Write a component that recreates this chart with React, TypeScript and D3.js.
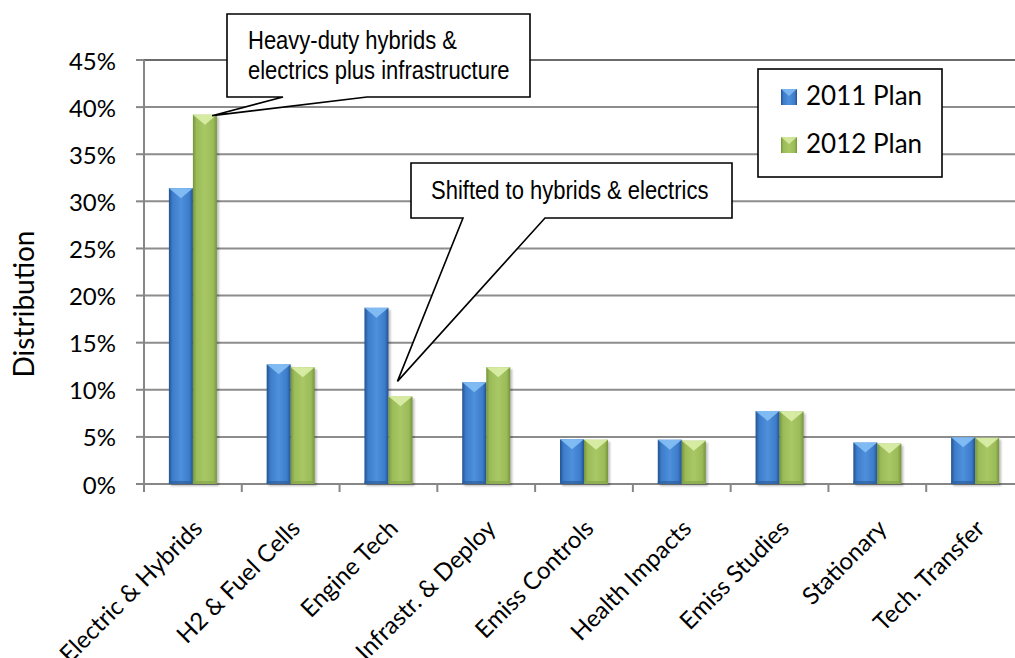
import React from "react";
import * as d3 from "d3";

const categories = [
  "Electric & Hybrids",
  "H2 & Fuel Cells",
  "Engine Tech",
  "Infrastr. & Deploy",
  "Emiss Controls",
  "Health Impacts",
  "Emiss Studies",
  "Stationary",
  "Tech. Transfer",
];
const plan2011 = [31.4, 12.7, 18.7, 10.8, 4.75, 4.7, 7.75, 4.4, 4.95];
const plan2012 = [39.2, 12.4, 9.3, 12.4, 4.7, 4.6, 7.7, 4.3, 4.9];
const seriesNames = ["2011 Plan", "2012 Plan"];
const yTicks = [0, 5, 10, 15, 20, 25, 30, 35, 40, 45];
const yTitle = "Distribution";
const callout1Lines = ["Heavy-duty hybrids &", "electrics plus infrastructure"];
const callout2Lines = ["Shifted to hybrids & electrics"];

const W = 1015;
const H = 658;
const left = 144;
const top = 60;
const bottom = 484;
const right = 1024;
const barW = 24;

const labelFont = "Lato, 'Open Sans', sans-serif";
const narrowFont = "'Liberation Sans', Arial, sans-serif";

const palettes = [
  { id: "blue", edge: "#23528f", mid: "#3c7cca", light: "#4f90dc", top: "#86c0f5", base: "#2c5f9e" },
  { id: "green", edge: "#76953c", mid: "#9bbb59", light: "#a8c866", top: "#dcefa8", base: "#86a64a" },
];

function Bar({ x, y, w, h, p }: { x: number; y: number; w: number; h: number; p: (typeof palettes)[0] }) {
  const tri = Math.min(10, h);
  return (
    <g>
      <rect x={x + 2} y={y + 2} width={w} height={h} fill="#000" opacity={0.25} filter="url(#blur)" />
      <rect x={x} y={y} width={w} height={h} fill={`url(#grad-${p.id})`} />
      <polygon points={`${x},${y} ${x + w},${y} ${x + w / 2},${y + tri}`} fill={p.top} opacity={0.9} />
      <polygon points={`${x},${y} ${x + w / 2},${y + tri} ${x + 3},${y + 3}`} fill={p.light} opacity={0.6} />
      <rect x={x} y={y + h - 3} width={w} height={3} fill={p.base} opacity={0.7} />
    </g>
  );
}

export default function App() {
  const x = d3.scaleBand<string>().domain(categories).range([left, right]).padding(0);
  const y = d3.scaleLinear().domain([0, 45]).range([bottom, top]);
  const series = [plan2011, plan2012];
  const center = (c: string) => (x(c) as number) + x.bandwidth() / 2;
  const barX = (c: string, s: number) => center(c) - barW + s * barW;

  const t1x = barX(categories[0], 1) + barW * 0.8;
  const t1y = y(plan2012[0]) + 1;
  const c1 = { x0: 227, y0: 14, x1: 530, y1: 97, a: 283, b: 367 };
  const path1 = `M${c1.x0},${c1.y0} H${c1.x1} V${c1.y1} H${c1.b} L${t1x},${t1y} L${c1.a},${c1.y1} H${c1.x0} Z`;

  const t2x = barX(categories[2], 1) + 9;
  const t2y = y(plan2012[2]) - 15;
  const c2 = { x0: 411, y0: 163, x1: 732, y1: 218, a: 463, b: 545 };
  const path2 = `M${c2.x0},${c2.y0} H${c2.x1} V${c2.y1} H${c2.b} L${t2x},${t2y} L${c2.a},${c2.y1} H${c2.x0} Z`;

  return (
    <svg width={W} height={H} style={{ position: "absolute", left: 0, top: 0, background: "#fff" }}>
      <defs>
        {palettes.map((p) => (
          <linearGradient key={p.id} id={`grad-${p.id}`} x1="0" x2="1" y1="0" y2="0">
            <stop offset="0" stopColor={p.edge} />
            <stop offset="0.15" stopColor={p.mid} />
            <stop offset="0.5" stopColor={p.light} />
            <stop offset="0.85" stopColor={p.mid} />
            <stop offset="1" stopColor={p.edge} />
          </linearGradient>
        ))}
        <filter id="blur" x="-20%" y="-20%" width="140%" height="140%">
          <feGaussianBlur stdDeviation="1.2" />
        </filter>
      </defs>

      {yTicks.map((t) => (
        <line
          key={t}
          x1={left}
          x2={W}
          y1={y(t)}
          y2={y(t)}
          stroke={t === 45 ? "#3a3a3a" : "#8c8c8c"}
          strokeWidth={t === 45 ? 1.6 : 2}
        />
      ))}
      <line x1={left} x2={left} y1={top} y2={bottom + 8} stroke="#868686" strokeWidth={2} />
      {yTicks.map((t) => (
        <line key={"yt" + t} x1={left - 8} x2={left} y1={y(t)} y2={y(t)} stroke="#868686" strokeWidth={2} />
      ))}
      {yTicks.map((t) => (
        <text
          key={"yl" + t}
          x={116}
          y={y(t)}
          textAnchor="end"
          dominantBaseline="central"
          fontFamily={labelFont}
          fontSize={24}
          fill="#000"
        >
          {t}%
        </text>
      ))}
      <text
        transform={`translate(23, 304) rotate(-90)`}
        textAnchor="middle"
        dominantBaseline="central"
        fontFamily={labelFont}
        fontSize={28}
      >
        {yTitle}
      </text>

      <line x1={left} x2={W} y1={bottom} y2={bottom} stroke="#868686" strokeWidth={2} />
      {categories.map((c, i) => (
        <line key={"xt" + i} x1={x(c)} x2={x(c)} y1={bottom} y2={bottom + 8} stroke="#868686" strokeWidth={2} />
      ))}

      {categories.map((c, i) =>
        series.map((s, si) => (
          <Bar
            key={c + si}
            x={barX(c, si)}
            y={y(s[i])}
            w={barW}
            h={bottom - y(s[i])}
            p={palettes[si]}
          />
        ))
      )}

      {categories.map((c) => (
        <text
          key={"xl" + c}
          transform={`translate(${center(c) + 11}, 530) rotate(-45)`}
          textAnchor="end"
          fontFamily={labelFont}
          fontSize={24}
        >
          {c}
        </text>
      ))}

      <path d={path1} fill="#fff" stroke="#000" strokeWidth={1.6} strokeLinejoin="miter" />
      {callout1Lines.map((l, i) => (
        <text
          key={l}
          transform={`translate(248, ${49 + i * 30}) scale(0.83, 1)`}
          fontFamily={narrowFont}
          fontSize={26.5}
          fill="#000"
        >
          {l}
        </text>
      ))}
      <path d={path2} fill="#fff" stroke="#000" strokeWidth={1.6} />
      {callout2Lines.map((l) => (
        <text
          key={l}
          transform={`translate(431, 199) scale(0.83, 1)`}
          fontFamily={narrowFont}
          fontSize={26.5}
          fill="#000"
        >
          {l}
        </text>
      ))}

      <rect x={758} y={69} width={184} height={108} fill="#fff" stroke="#000" strokeWidth={1.6} />
      {seriesNames.map((n, i) => (
        <g key={n}>
          <rect x={781} y={89 + i * 48} width={16} height={16} fill={`url(#grad-${palettes[i].id})`} />
          <polygon
            points={`781,${89 + i * 48} 797,${89 + i * 48} 789,${96 + i * 48}`}
            fill={palettes[i].top}
            opacity={0.8}
          />
          <text x={806} y={105 + i * 48} fontFamily={labelFont} fontSize={26}>
            {n}
          </text>
        </g>
      ))}
    </svg>
  );
}
